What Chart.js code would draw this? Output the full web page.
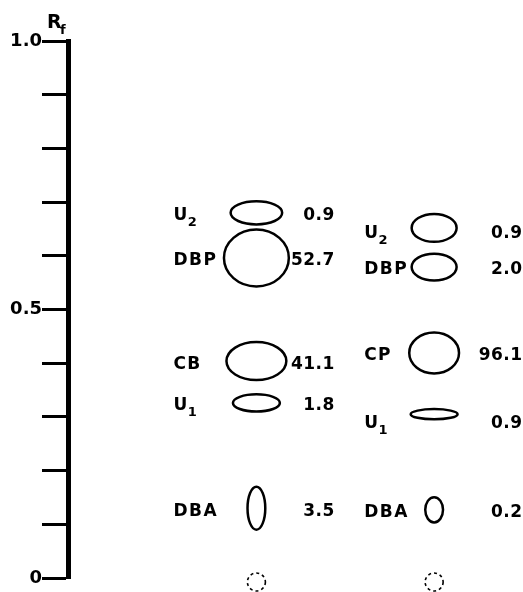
<!DOCTYPE html>
<html>
<head>
<meta charset="utf-8">
<script src="https://cdn.jsdelivr.net/npm/chart.js@4.4.1/dist/chart.umd.min.js"></script>
<style>
  html, body { margin: 0; padding: 0; background: #fff; }
  #wrap { width: 523px; height: 592px; }
</style>
</head>
<body>
<div id="wrap"><canvas id="tlcChart"></canvas></div>
<script>
// Lane positions (x) and y tick labels
const lanes = [1, 2];
const yTickLabels = ['0', '', '', '', '', '0.5', '', '', '', '', '1.0'];

// Left lane: spot names, Rf, percent, spot extent (x in lane units, y in Rf)
const leftNames = ['U2', 'DBP', 'CB', 'U1', 'DBA'];
const leftRf = [0.680, 0.596, 0.404, 0.326, 0.130];
const leftPercent = [0.9, 52.7, 41.1, 1.8, 3.5];
const leftSpotW = [0.29, 0.365, 0.337, 0.264, 0.10];
const leftSpotH = [0.043, 0.106, 0.071, 0.032, 0.080];

// Right lane
const rightNames = ['U2', 'DBP', 'CP', 'U1', 'DBA'];
const rightRf = [0.652, 0.579, 0.419, 0.305, 0.127];
const rightPercent = [0.9, 2.0, 96.1, 0.9, 0.2];
const rightSpotW = [0.253, 0.253, 0.28, 0.264, 0.10];
const rightSpotH = [0.052, 0.050, 0.076, 0.019, 0.047];

// Origin (Rf = 0)
const originRf = [0, 0];

// label placement per lane (pixels)
const laneLayout = [
  { nameDx: -83, valueDx: 78, dy: [0, 0, 1, 0, 1] },
  { nameDx: -70, valueDx: 88, dy: [3, 0, 0, 7, 0] }
];

const FONT = "'DejaVu Sans', sans-serif";

function laneData(lane, rf, w, h, names, pct) {
  return rf.map((v, i) => ({ x: lane, y: v, w: w[i], h: h[i], name: names[i], pct: pct[i] }));
}

function drawName(ctx, text, x, y) {
  // trailing digits drawn as subscript
  const m = text.match(/^(\D+)(\d*)$/);
  ctx.textAlign = 'left';
  ctx.textBaseline = 'alphabetic';
  ctx.letterSpacing = '1.5px';
  ctx.font = 'bold 17px ' + FONT;
  ctx.fillText(m[1], x, y + 7);
  if (m[2]) {
    const w = ctx.measureText(m[1]).width;
    ctx.font = 'bold 13px ' + FONT;
    ctx.fillText(m[2], x + w - 1, y + 13);
  }
}

const spotsPlugin = {
  id: 'spots',
  afterDatasetsDraw(chart) {
    const ctx = chart.ctx;
    const xs = chart.scales.x, ys = chart.scales.y;
    ctx.save();
    ctx.strokeStyle = '#000';
    ctx.fillStyle = '#000';
    chart.data.datasets.forEach((ds, di) => {
      const meta = chart.getDatasetMeta(di);
      meta.data.forEach((pt, i) => {
        const d = ds.data[i];
        if (ds.origin) {
          ctx.setLineDash([3, 3]);
          ctx.lineWidth = 1.6;
          ctx.beginPath();
          ctx.arc(pt.x, pt.y + 4, 9, 0, Math.PI * 2);
          ctx.stroke();
          ctx.setLineDash([]);
          return;
        }
        const rx = Math.abs(xs.getPixelForValue(d.x + d.w / 2) - xs.getPixelForValue(d.x));
        const ry = Math.abs(ys.getPixelForValue(d.y + d.h / 2) - ys.getPixelForValue(d.y));
        ctx.lineWidth = 2.5;
        ctx.beginPath();
        ctx.ellipse(pt.x, pt.y, rx, ry, 0, 0, Math.PI * 2);
        ctx.stroke();
        const lay = laneLayout[d.x - 1];
        const ly = pt.y + lay.dy[i];
        drawName(ctx, d.name, pt.x + lay.nameDx, ly);
        ctx.font = 'bold 17px ' + FONT;
        ctx.letterSpacing = '0.5px';
        ctx.textAlign = 'right';
        ctx.textBaseline = 'alphabetic';
        ctx.fillText(d.pct.toFixed(1), pt.x + lay.valueDx + 0.5, ly + 7);
      });
    });
    // R_f axis title
    const ax = ys.right;
    ctx.textAlign = 'left';
    ctx.letterSpacing = '0px';
    ctx.font = 'bold 19px ' + FONT;
    ctx.fillText('R', ax - 21, 28);
    ctx.font = 'bold 13px ' + FONT;
    ctx.fillText('f', ax - 8, 34);
    ctx.restore();
  }
};

new Chart(document.getElementById('tlcChart'), {
  type: 'scatter',
  data: {
    datasets: [
      { data: laneData(lanes[0], leftRf, leftSpotW, leftSpotH, leftNames, leftPercent), pointRadius: 0 },
      { data: laneData(lanes[1], rightRf, rightSpotW, rightSpotH, rightNames, rightPercent), pointRadius: 0 },
      { data: lanes.map((l, i) => ({ x: l, y: originRf[i] })), pointRadius: 0, origin: true }
    ]
  },
  options: {
    responsive: true,
    maintainAspectRatio: false,
    animation: false,
    events: [],
    layout: { padding: { top: 41, bottom: 14, left: 0, right: 0 } },
    plugins: { legend: { display: false }, tooltip: { enabled: false } },
    scales: {
      x: { type: 'linear', display: false, min: -0.06, max: 2.5 },
      y: {
        min: 0, max: 1,
        afterFit: s => { s.width = 68; },
        border: { display: true, color: '#000', width: 5 },
        grid: { drawOnChartArea: false, drawTicks: true, tickLength: 26, tickWidth: 3, tickColor: '#000' },
        ticks: {
          stepSize: 0.1,
          padding: 0,
          color: '#000',
          font: { family: FONT, size: 18, weight: 'bold' },
          callback: v => yTickLabels[Math.round(v * 10)]
        }
      }
    }
  },
  plugins: [spotsPlugin]
});
</script>
</body>
</html>
